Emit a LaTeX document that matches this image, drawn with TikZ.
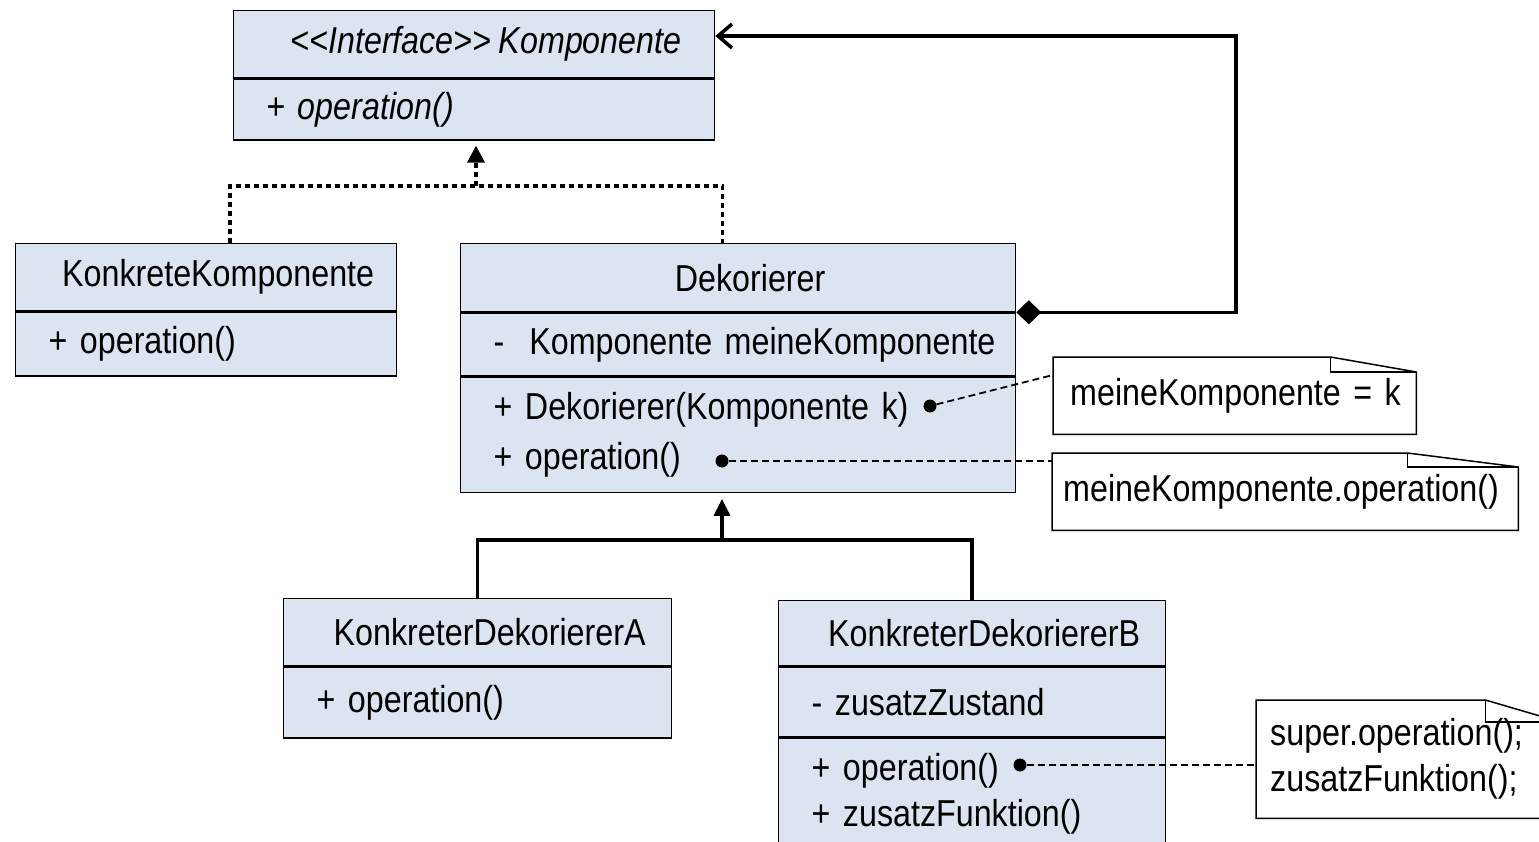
\documentclass[tikz,border=0pt]{standalone}
\usepackage{fontspec}
\setmainfont{Liberation Sans}[FakeStretch=0.86, WordSpace=0.8]
\usetikzlibrary{arrows.meta,calc}

\definecolor{klassenblau}{RGB}{219,228,240}
\newcommand{\schrift}{\fontsize{37.5}{46}\selectfont}
% Notizzettel mit Eselsohr: Knotenname, Breite und Hoehe des Knicks
\newcommand{\notizrand}[3]{%
  \draw[line width=1.5pt] (#1.north west) -- ([xshift=-#2]#1.north east)
    -- ([yshift=-#3]#1.north east) -- (#1.south east) -- (#1.south west) -- cycle;
  \draw[line width=1.5pt] ([xshift=-#2]#1.north east) |- ([yshift=-#3]#1.north east);}

\tikzset{
  fach/.style={draw, fill=klassenblau, line width=1.3pt, inner ysep=0pt,
    anchor=north west, font=\schrift},
  kopf/.style={fach, minimum width=#1, inner xsep=0pt,
    execute at begin node=\hspace*{24pt}},
  liste/.style={fach, text width=#1, inner xsep=33pt, align=left},
  notiz/.style={anchor=north west, inner ysep=0pt, text width=#1, align=left, font=\schrift},
  punkt/.style={circle, fill, inner sep=0pt, minimum size=13pt},
  linie/.style={line width=3.5pt},
  real/.style={line width=3.5pt, dash pattern=on 4.5pt off 4.5pt},
  hinweis/.style={line width=1.8pt, dash pattern=on 7pt off 4pt},
}

\begin{document}
\begin{tikzpicture}[x=1pt,y=-1pt]
        \useasboundingbox (0,0) rectangle (1539,842);
        \clip (0,0) rectangle (1539,842);
        % Klassen
        \node[kopf=481pt, minimum height=67pt] (ifT) at (233,10) {\itshape <{}<Interface>{}> Komponente};
        \node[liste=415pt, minimum height=61pt] (ifO) at (ifT.south west) {\itshape + operation()};
        \node[kopf=381pt, minimum height=67pt] (kkT) at (15,243) {KonkreteKomponente};
        \node[liste=315pt, minimum height=64pt] (kkO) at (kkT.south west) {+ operation()};
        \node[kopf=555pt, minimum height=68pt] (dekT) at (460,243) {Dekorierer};
        \node[liste=489pt, minimum height=63pt] (dekA) at (dekT.south west) {\mbox{-~ Komponente meineKomponente}};
        \node[liste=489pt, minimum height=115pt] (dekO) at (dekA.south west) {\mbox{+ Dekorierer(Komponente k)}\\[4pt] + operation()};
        \node[kopf=388pt, minimum height=67pt] (kaT) at (283,598) {KonkreterDekoriererA};
        \node[liste=322pt, minimum height=71pt] (kaO) at (kaT.south west) {+ operation()};
        \node[kopf=387pt, minimum height=65pt] (kbT) at (778,600) {KonkreterDekoriererB};
        \node[liste=321pt, minimum height=70pt] (kbA) at (kbT.south west) {- zusatzZustand};
        \node[liste=321pt, minimum height=112pt] (kbO) at (kbA.south west) {+ operation()\\ + zusatzFunktion()};
        % Notizen
        \node[notiz=329pt, inner xsep=17pt, minimum height=77pt] (n1) at (1053,357) {\mbox{meineKomponente = k}};
        \node[notiz=444pt, inner xsep=11pt, minimum height=77pt] (n2) at (1052,453) {\mbox{meineKomponente.operation()}};
        \node[notiz=276pt, inner xsep=14pt, minimum height=118pt] (n3) at (1256,700) {super.operation();\\ zusatzFunktion();};
        \notizrand{n1}{86pt}{15pt}
        \notizrand{n2}{111pt}{14pt}
        \notizrand{n3}{75pt}{22pt}
        \node[punkt] (p1) at (930,406) {};
        \node[punkt] (p2) at (722,461) {};
        \node[punkt] (p3) at (1020,765) {};
        \draw[hinweis] (p1) -- ([yshift=-18pt]n1.north west);
        \draw[hinweis] (p2) -- (p2 -| n2.west);
        \draw[hinweis] (p3) -- (p3 -| n3.west);
        % Realisierung
        \coordinate (mitte) at (476,186);
        \draw[real] ([xshift=24pt]kkT.north) |- (mitte) -| ([xshift=-15.5pt]dekT.north);
        \draw[real, -{Triangle[length=17pt,width=17pt]}] (mitte) -- ([yshift=-5pt]mitte |- ifO.south);
        % Vererbung
        \coordinate (gabel) at (722,540);
        \draw[linie] (kaT.north) |- (gabel) -| (kbT.north);
        \draw[linie, -{Triangle[length=17pt,width=16pt]}] (gabel) -- ([yshift=-6pt]gabel |- dekO.south);
        % Komposition
        \coordinate (ecke) at (1236,36);
        \draw[linie, {Diamond[length=25pt,width=24pt]}-{Straight Barb[length=14pt,width=24pt]}]
        (dekT.south east) -| (ecke) -- (ecke -| ifT.east);
    \end{tikzpicture}
\end{document}
